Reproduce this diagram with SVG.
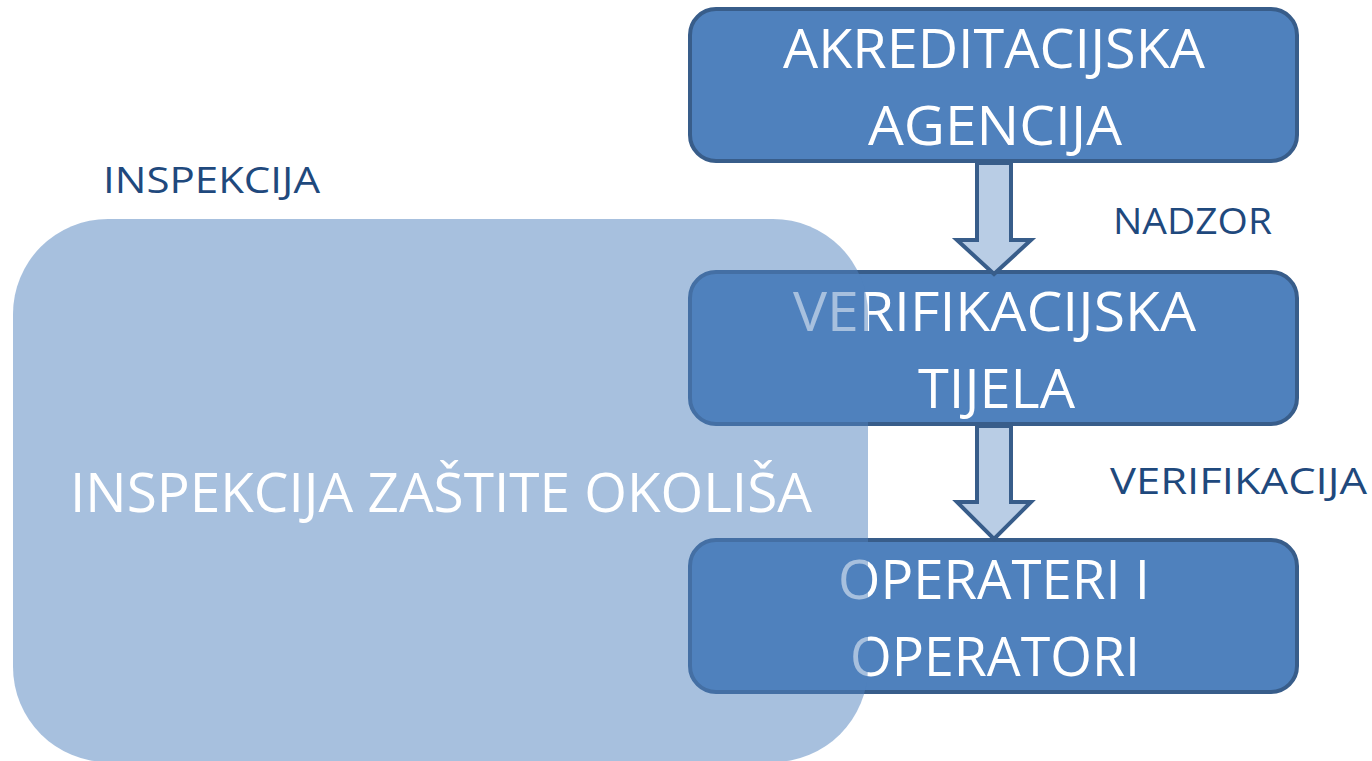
<svg xmlns="http://www.w3.org/2000/svg" width="1372" height="761" viewBox="0 0 1372 761">
  <style>
    .box { fill: #4f81bd; stroke: #385d8a; stroke-width: 4; }
    .btxt { font-family: "Open Sans", "Liberation Sans", sans-serif; font-size: 55px; fill: #ffffff; text-anchor: middle; }
    .lbl { font-family: "Open Sans", "Liberation Sans", sans-serif; font-size: 37px; fill: #1f497d; }
    .arrow { fill: #b9cde5; stroke: #385d8a; stroke-width: 4; stroke-linejoin: miter; }
    .zone { fill: #4f81bd; fill-opacity: 0.5; }
    .ztxt { font-family: "Open Sans", "Liberation Sans", sans-serif; font-size: 55px; fill: #ffffff; text-anchor: middle; }
  </style>
  <rect width="1372" height="761" fill="#ffffff"/>

  <g id="akreditacijska-agencija">
    <rect class="box" x="690" y="9" width="607" height="152" rx="26"/>
    <text class="btxt" x="994" y="68" textLength="422" lengthAdjust="spacingAndGlyphs">AKREDITACIJSKA</text>
    <text class="btxt" x="995" y="145" textLength="254" lengthAdjust="spacingAndGlyphs">AGENCIJA</text>
  </g>

  <g id="verifikacijska-tijela">
    <rect class="box" x="690" y="272" width="607" height="152" rx="26"/>
    <text class="btxt" x="994.5" y="331" textLength="403" lengthAdjust="spacingAndGlyphs">VERIFIKACIJSKA</text>
    <text class="btxt" x="996.5" y="408" textLength="157" lengthAdjust="spacingAndGlyphs">TIJELA</text>
  </g>

  <g id="operateri">
    <rect class="box" x="690" y="540" width="607" height="152" rx="26"/>
    <text class="btxt" x="994" y="599" textLength="312" lengthAdjust="spacingAndGlyphs">OPERATERI I</text>
    <text class="btxt" x="995" y="676" textLength="290" lengthAdjust="spacingAndGlyphs">OPERATORI</text>
  </g>

  <g id="connectors">
    <path class="arrow" d="M977,163 L1011,163 L1011,240 L1031,240 L994,274 L957,240 L977,240 Z"/>
    <path class="arrow" d="M977,426 L1011,426 L1011,502 L1031,502 L994,539 L957,502 L977,502 Z"/>
    <text class="lbl" x="1113" y="234" textLength="159" lengthAdjust="spacingAndGlyphs">NADZOR</text>
    <text class="lbl" x="1110" y="494" textLength="257" lengthAdjust="spacingAndGlyphs">VERIFIKACIJA</text>
  </g>

  <g id="inspekcija-zastite-okolisa">
    <rect class="zone" x="13" y="219" width="855" height="543" rx="95"/>
    <text class="ztxt" x="441" y="512" textLength="742" lengthAdjust="spacingAndGlyphs">INSPEKCIJA ZAŠTITE OKOLIŠA</text>
  </g>

  <g id="inspekcija-label">
    <text class="lbl" x="103" y="193" textLength="217" lengthAdjust="spacingAndGlyphs">INSPEKCIJA</text>
  </g>
</svg>
